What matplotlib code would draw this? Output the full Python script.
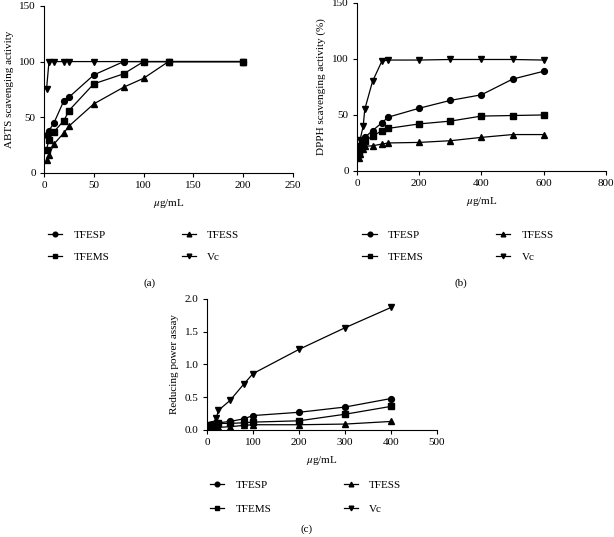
import matplotlib.pyplot as plt


# (a) ABTS
abtsX = [2.5, 5, 10, 20, 25, 50, 80, 100, 125, 200]
abtsTFESP = [34, 38, 45, 65, 68, 88, 100, 100, 100, 100]
abtsTFEMS = [21, 30, 37, 47, 56, 80, 89, 100, 100, 100]
abtsTFESS = [12, 16, 26, 36, 42, 62, 77, 85, 100, 100]
abtsVc = [75, 100, 100, 100, 100, 100, 100, 100, 100, 100]

# (b) DPPH
dpphX = [5, 10, 20, 25, 50, 80, 100, 200, 300, 400, 500, 600]
dpphTFESP = [18, 22, 27, 30, 36, 43, 48, 56, 63, 68, 82, 89]
dpphTFEMS = [15, 20, 24, 27, 31, 36, 38, 42, 44.5, 49, 49.5, 50]
dpphTFESS = [12, 15, 20, 22, 22.5, 24, 25, 25.5, 27, 30, 32.5, 32.5]
dpphVc = [22, 28, 40, 55, 80, 98, 99, 99, 99.5, 99.5, 99.5, 99]

# (c) Reducing power
rpX = [5, 10, 20, 25, 50, 80, 100, 200, 300, 400]
rpTFESP = [0.08, 0.09, 0.10, 0.11, 0.13, 0.17, 0.22, 0.27, 0.35, 0.48]
rpTFEMS = [0.07, 0.08, 0.09, 0.10, 0.10, 0.11, 0.12, 0.14, 0.24, 0.36]
rpTFESS = [0.00, 0.01, 0.03, 0.04, 0.05, 0.07, 0.08, 0.08, 0.09, 0.13]
rpVc = [0.03, 0.08, 0.18, 0.30, 0.45, 0.70, 0.86, 1.23, 1.56, 1.87]

names = ["TFESP", "TFEMS", "TFESS", "Vc"]
markers = ["o", "s", "^", "v"]

FS = 8


def main():

    plt.rcParams['font.family'] = ['Liberation Serif', 'DejaVu Serif']
    plt.rcParams['mathtext.fontset'] = 'stix'

    fig = plt.figure(figsize=(6.14, 5.37), dpi=100)

    axA = fig.add_axes([0.0717, 0.678, 0.4055, 0.311])
    axB = fig.add_axes([0.5814, 0.6816, 0.4055, 0.313])
    axC = fig.add_axes([0.3371, 0.1993, 0.3746, 0.2440])

    DrawPanel(axA, abtsX, [abtsTFESP, abtsTFEMS, abtsTFESS, abtsVc],
              "ABTS scavenging activity", (0, 250), range(0, 251, 50),
              (0, 150), range(0, 151, 50), "{:.0f}")
    DrawPanel(axB, dpphX, [dpphTFESP, dpphTFEMS, dpphTFESS, dpphVc],
              "DPPH scavenging activity (%)", (0, 800), range(0, 801, 200),
              (0, 150), range(0, 151, 50), "{:.0f}")
    DrawPanel(axC, rpX, [rpTFESP, rpTFEMS, rpTFESS, rpVc],
              "Reducing power assay", (0, 500), range(0, 501, 100),
              (0, 2.0), [0, 0.5, 1.0, 1.5, 2.0], "{:.1f}")

    # 凡例の位置 (figure座標)
    Legend(axA, fig, 0.234, 0.542, 1.1)
    Legend(axB, fig, 0.746, 0.542, 1.1)
    Legend(axC, fig, 0.498, 0.0745, 1.3)

    fig.text(150 / 614, 1 - 283 / 537, "(a)", ha="center", va="center", fontsize=FS)
    fig.text(461 / 614, 1 - 283 / 537, "(b)", ha="center", va="center", fontsize=FS)
    fig.text(307 / 614, 1 - 529 / 537, "(c)", ha="center", va="center", fontsize=FS)

    fig.savefig("out.png", dpi=100)

    return



def DrawPanel(ax, x, series, ylabel, xlim, xticks, ylim, yticks, yfmt):
    """
    Draw one panel with four series
    """

    for y, name, m in zip(series, names, markers):
        ax.plot(x, y, color="black", linewidth=0.9, marker=m,
                markersize=4.2, label=name)

    ax.set_xlim(xlim)
    ax.set_ylim(ylim)
    ax.set_xticks(list(xticks))
    ax.set_yticks(list(yticks))
    ax.set_yticklabels([yfmt.format(v) for v in yticks])

    ax.spines["top"].set_visible(False)
    ax.spines["right"].set_visible(False)
    for s in ["left", "bottom"]:
        ax.spines[s].set_linewidth(0.8)
    ax.tick_params(direction="out", length=3, width=0.8, labelsize=FS, pad=3)

    ax.set_xlabel(r"$\mathit{\mu}$g/mL", fontsize=FS, labelpad=5)
    ax.set_ylabel(ylabel, fontsize=FS, labelpad=4)

    return



def Legend(ax, fig, cx, cy, spacing):
    """
    Two column legend below the panel
    """

    handles, labels = ax.get_legend_handles_labels()
    fig.legend(handles, labels, loc="center", bbox_to_anchor=(cx, cy),
               ncol=2, frameon=False, fontsize=FS, handlelength=1.3,
               handletextpad=1.0, columnspacing=6.5, labelspacing=spacing,
               markerscale=0.8)

    return




if __name__ == "__main__":
    main()
